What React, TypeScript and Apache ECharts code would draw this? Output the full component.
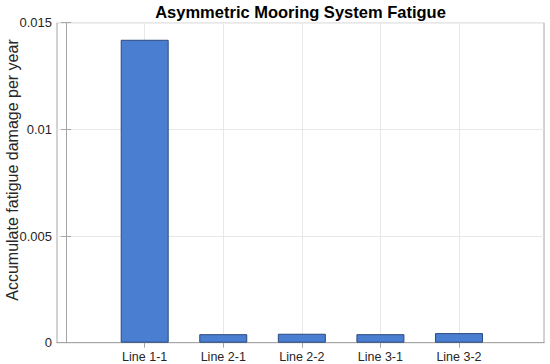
import React, { useEffect, useRef } from "react";
import * as echarts from "echarts";

const categories = ["Line 1-1", "Line 2-1", "Line 2-2", "Line 3-1", "Line 3-2"];
const positions = [1, 2, 3, 4, 5];
const damage = [0.0142, 0.0004, 0.00042, 0.0004, 0.00045];
const yTicks = [0, 0.005, 0.01, 0.015];

const AXIS = "#a6a6a6";
const TEXT = "#262626";
const GRID = "#e8e8e8";

export default function App() {
  const ref = useRef<HTMLDivElement>(null);
  useEffect(() => {
    if (!ref.current) return;
    const chart = echarts.init(ref.current, undefined, { renderer: "svg" });
    const font = "'Liberation Sans', Arial, sans-serif";
    chart.setOption({
      animation: false,
      backgroundColor: "#ffffff",
      textStyle: { fontFamily: font },
      grid: {
        left: 57,
        right: 6,
        top: 22.7,
        bottom: 21.3,
        show: true,
        borderColor: AXIS,
        borderWidth: 1,
        backgroundColor: "transparent",
      },
      graphic: [
        {
          type: "text",
          x: 300.5,
          y: 12,
          style: {
            text: "Asymmetric Mooring System Fatigue",
            fontFamily: font,
            fontWeight: "bold",
            fontSize: 16.5,
            fill: "#000000",
            textAlign: "center",
            textVerticalAlign: "middle",
          },
        },
        {
          type: "text",
          x: 12,
          y: 170,
          rotation: Math.PI / 2,
          style: {
            text: "Accumulate fatigue damage per year",
            fontFamily: font,
            fontSize: 16,
            fill: TEXT,
            textAlign: "center",
            textVerticalAlign: "middle",
          },
        },
      ],
      xAxis: [
        {
          type: "value",
          min: -0.116,
          max: 6.082,
          axisLine: { show: true, lineStyle: { color: AXIS } },
          axisTick: {
            show: true,
            inside: true,
            length: 5,
            customValues: positions,
            lineStyle: { color: "#555" },
          },
          axisLabel: {
            customValues: positions,
            formatter: (v: number) => categories[Math.round(v) - 1] ?? "",
            color: TEXT,
            fontSize: 12.5,
            margin: 8,
            fontFamily: font,
          },
          splitLine: { show: false },
        },
        {
          type: "value",
          position: "top",
          min: -0.116,
          max: 6.082,
          axisLine: { show: true, lineStyle: { color: AXIS } },
          axisTick: {
            show: true,
            inside: true,
            length: 5,
            customValues: positions,
            lineStyle: { color: AXIS },
          },
          axisLabel: { show: false },
          splitLine: { show: false },
        },
      ],
      yAxis: [
        {
          type: "value",
          min: yTicks[0],
          max: yTicks[yTicks.length - 1],
          interval: 0.005,
          axisLine: { show: true, lineStyle: { color: AXIS } },
          axisTick: { show: true, inside: true, length: 5, lineStyle: { color: AXIS } },
          axisLabel: {
            color: TEXT,
            fontSize: 13,
            margin: 5,
            fontFamily: font,
            formatter: (v: number) => String(parseFloat(v.toPrecision(6))),
          },
          splitLine: { show: true, lineStyle: { color: GRID, width: 1 } },
        },
        {
          type: "value",
          position: "right",
          min: yTicks[0],
          max: yTicks[yTicks.length - 1],
          interval: 0.005,
          axisLine: { show: true, lineStyle: { color: AXIS } },
          axisTick: { show: true, inside: true, length: 5, lineStyle: { color: AXIS } },
          axisLabel: { show: false },
          splitLine: { show: false },
        },
      ],
      series: [
        {
          type: "bar",
          xAxisIndex: 0,
          yAxisIndex: 0,
          barWidth: 48,
          data: positions.map((p, i) => [p, damage[i]]),
          itemStyle: { color: "#4a7ed0", borderColor: "#2b4a7e", borderWidth: 1 },
          z: 2,
          markLine: {
            silent: true,
            symbol: "none",
            label: { show: false },
            lineStyle: { color: GRID, type: "solid", width: 1 },
            data: positions.map((p) => ({ xAxis: p })),
            z: 1,
          },
        },
      ],
    });
    return () => chart.dispose();
  }, []);
  return (
    <div
      ref={ref}
      style={{ position: "absolute", left: 0, top: 0, width: 550, height: 364 }}
    />
  );
}
